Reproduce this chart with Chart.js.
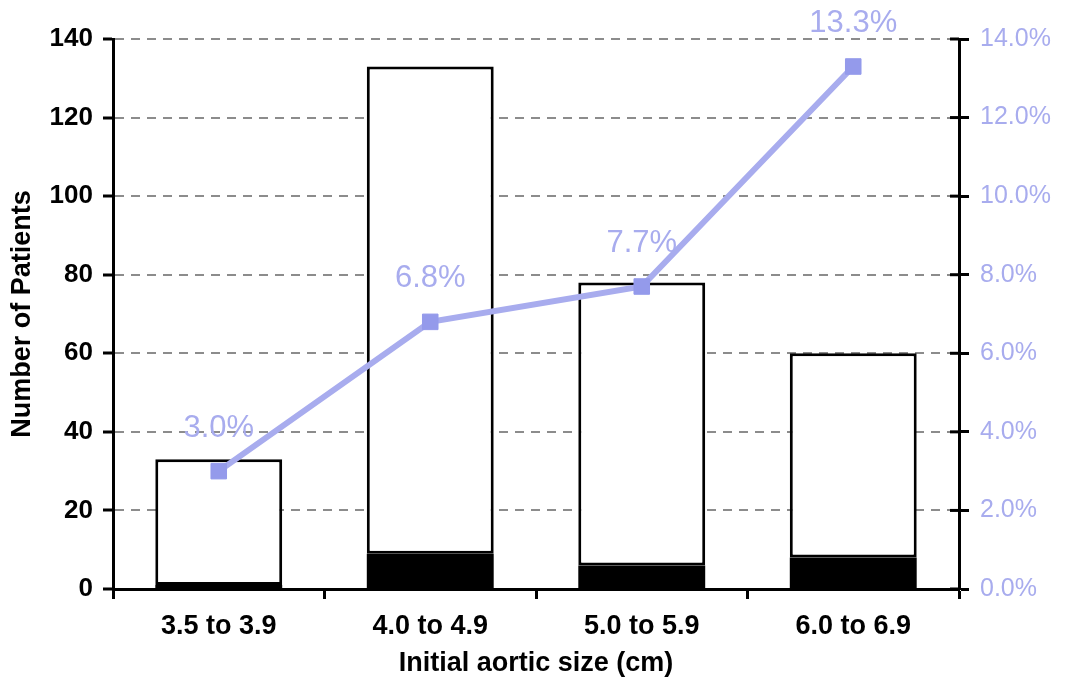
<!DOCTYPE html>
<html>
<head>
<meta charset="utf-8">
<script src="https://cdn.jsdelivr.net/npm/chart.js@4.4.1/dist/chart.umd.min.js"></script>
<style>
  html, body { margin: 0; padding: 0; background: #ffffff; }
  #wrap { position: absolute; left: 0; top: 0; width: 1069px; height: 682px; }
</style>
</head>
<body>
<div id="wrap"><canvas id="chart" width="1069" height="682"></canvas></div>
<script>
// Aortic size groups
const categories = ['3.5 to 3.9', '4.0 to 4.9', '5.0 to 5.9', '6.0 to 6.9'];
// Patients per group
const totalPatients = [33, 133, 78, 60];
// Patients with an event (dark part of each bar)
const eventPatients = [1, 9, 6, 8];
// Event rate per group, percent
const eventRate = [3.0, 6.8, 7.7, 13.3];
// Right axis tick labels
const rateTicks = ['0.0%', '2.0%', '4.0%', '6.0%', '8.0%', '10.0%', '12.0%', '14.0%'];

const remainder = totalPatients.map((t, i) => t - eventPatients[i]);

const FONT = "'Liberation Sans', Arial, sans-serif";
const LAVENDER = '#a8acee';

// Writes each rate above its marker
const rateLabels = {
  id: 'rateLabels',
  afterDatasetsDraw(chart) {
    const meta = chart.getDatasetMeta(2);
    const ctx = chart.ctx;
    ctx.save();
    ctx.font = '31px ' + FONT;
    ctx.fillStyle = LAVENDER;
    ctx.textAlign = 'center';
    ctx.textBaseline = 'middle';
    meta.data.forEach((pt, i) => {
      ctx.fillText(eventRate[i].toFixed(1) + '%', pt.x, pt.y - 43);
    });
    ctx.restore();
  }
};

// Tick marks on the right axis cross the axis line
const innerTicks = {
  id: 'innerTicks',
  afterDraw(chart) {
    const s = chart.scales.y1;
    const ctx = chart.ctx;
    ctx.save();
    ctx.strokeStyle = '#000';
    ctx.lineWidth = 3;
    s.ticks.forEach((t, i) => {
      const y = s.getPixelForTick(i);
      ctx.beginPath();
      ctx.moveTo(s.left - 9, y);
      ctx.lineTo(s.left, y);
      ctx.stroke();
    });
    ctx.restore();
  }
};

new Chart(document.getElementById('chart'), {
  data: {
    labels: categories,
    datasets: [
      {
        type: 'bar',
        label: 'Events',
        data: eventPatients,
        backgroundColor: '#000000',
        borderColor: '#000000',
        borderWidth: 0,
        barPercentage: 0.6,
        categoryPercentage: 1.0,
        yAxisID: 'y',
        order: 1
      },
      {
        type: 'bar',
        label: 'Patients',
        data: remainder,
        backgroundColor: '#ffffff',
        borderColor: '#000000',
        borderWidth: 3,
        borderSkipped: false,
        barPercentage: 0.6,
        categoryPercentage: 1.0,
        yAxisID: 'y',
        order: 2
      },
      {
        type: 'line',
        label: 'Event rate',
        data: eventRate,
        yAxisID: 'y1',
        borderColor: LAVENDER,
        borderWidth: 6,
        pointStyle: 'rect',
        pointRadius: 11,
        pointBackgroundColor: '#949aeb',
        pointBorderColor: '#949aeb',
        pointBorderWidth: 1,
        tension: 0,
        order: 0
      }
    ]
  },
  options: {
    responsive: false,
    devicePixelRatio: 1,
    animation: false,
    layout: { padding: { top: 39, left: 0, right: 0, bottom: 0 } },
    plugins: {
      legend: { display: false },
      tooltip: { enabled: false }
    },
    scales: {
      x: {
        stacked: true,
        offset: true,
        afterFit(s) { s.height = 93; },
        grid: {
          display: true,
          offset: true,
          drawOnChartArea: false,
          drawTicks: true,
          tickLength: 10,
          tickColor: '#000',
          tickWidth: 3
        },
        border: { display: true, color: '#000', width: 3 },
        ticks: {
          color: '#000',
          font: { family: FONT, size: 27, weight: 'bold' },
          padding: 11
        },
        title: {
          display: true,
          text: 'Initial aortic size (cm)',
          color: '#000',
          font: { family: FONT, size: 27, weight: 'bold' },
          padding: { top: 4, bottom: 2 }
        }
      },
      y: {
        stacked: true,
        position: 'left',
        min: 0,
        max: 140,
        afterFit(s) { s.width = 113; },
        grid: {
          color: '#8c8c8c',
          lineWidth: 2,
          drawTicks: true,
          tickLength: 10,
          tickColor: '#000',
          tickWidth: 3
        },
        border: { display: true, color: '#000', width: 3, dash: [9, 7] },
        ticks: {
          stepSize: 20,
          color: '#000',
          font: { family: FONT, size: 26, weight: 'bold' },
          padding: 10
        },
        title: {
          display: true,
          text: 'Number of Patients',
          color: '#000',
          font: { family: FONT, size: 27, weight: 'bold' },
          padding: { top: 6, bottom: 0 }
        }
      },
      y1: {
        position: 'right',
        min: 0,
        max: 14,
        afterFit(s) { s.width = 110; },
        grid: {
          drawOnChartArea: false,
          drawTicks: true,
          tickLength: 10,
          tickColor: '#000',
          tickWidth: 3
        },
        border: { display: true, color: '#000', width: 3 },
        ticks: {
          stepSize: 2,
          color: LAVENDER,
          font: { family: FONT, size: 25 },
          padding: 11,
          callback: (v, i) => rateTicks[i]
        }
      }
    }
  },
  plugins: [rateLabels, innerTicks]
});
</script>
</body>
</html>
